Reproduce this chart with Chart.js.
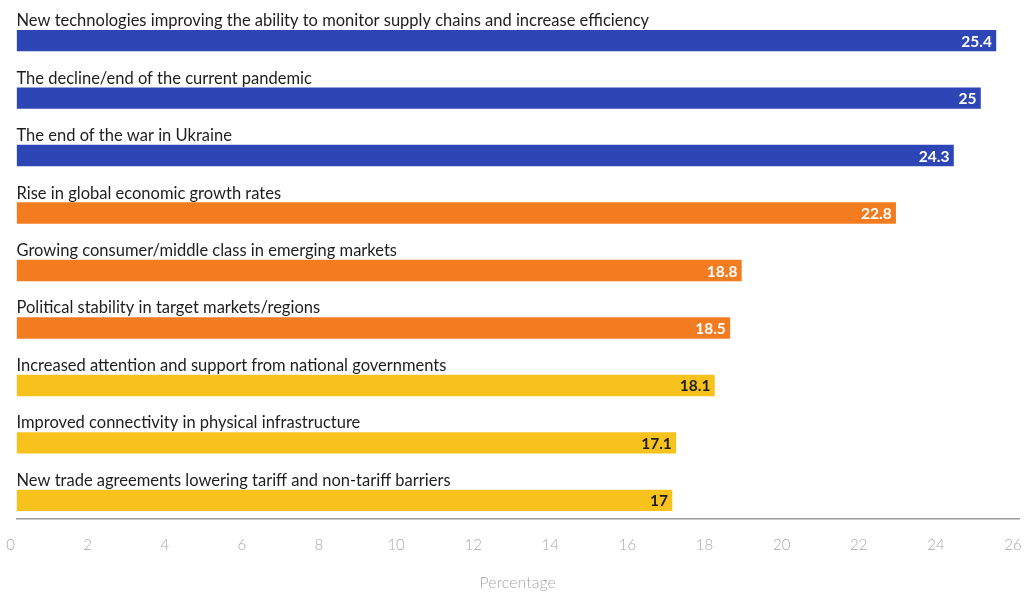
<!DOCTYPE html>
<html>
<head>
<meta charset="utf-8">
<script src="https://cdn.jsdelivr.net/npm/chart.js@4.4.0/dist/chart.umd.min.js"></script>
<style>
  html, body { margin: 0; padding: 0; background: #ffffff; }
  #wrap { width: 1027px; height: 592px; position: relative; }
</style>
</head>
<body>
<div id="wrap"><canvas id="c"></canvas></div>
<script>
// ---- data ----
const categories = [
  "New technologies improving the ability to monitor supply chains and increase efficiency",
  "The decline/end of the current pandemic",
  "The end of the war in Ukraine",
  "Rise in global economic growth rates",
  "Growing consumer/middle class in emerging markets",
  "Political stability in target markets/regions",
  "Increased attention and support from national governments",
  "Improved connectivity in physical infrastructure",
  "New trade agreements lowering tariff and non-tariff barriers"
];
const values = [25.4, 25, 24.3, 22.8, 18.8, 18.5, 18.1, 17.1, 17];
const xTickMin = 0;
const xTickMax = 26;
const xTickStep = 2;
const axisTitle = "Percentage";

// ---- styles ----
const BLUE = "#2e45b6", ORANGE = "#f47c20", YELLOW = "#f8c21d";
const barColors = [BLUE, BLUE, BLUE, ORANGE, ORANGE, ORANGE, YELLOW, YELLOW, YELLOW];
const valueColors = ["#ffffff","#ffffff","#ffffff","#ffffff","#ffffff","#ffffff","#1e1e1e","#1e1e1e","#1e1e1e"];
const FONT = "Lato";

const valueLabels = {
  id: "valueLabels",
  afterDatasetsDraw(chart) {
    const meta = chart.getDatasetMeta(1);
    const ctx = chart.ctx;
    ctx.save();
    ctx.font = "bold 15.5px " + FONT;
    ctx.textAlign = "right";
    ctx.textBaseline = "middle";
    meta.data.forEach((bar, i) => {
      ctx.fillStyle = valueColors[i];
      ctx.fillText(String(values[i]), bar.x - 4, bar.y + 1);
    });
    ctx.restore();
  }
};

function noMargins(scale) {
  scale.paddingLeft = 0; scale.paddingRight = 0;
  scale.paddingTop = 0; scale.paddingBottom = 0;
}

new Chart(document.getElementById("c"), {
  type: "bar",
  data: {
    labels: categories,
    datasets: [
      { label: "spacer", data: categories.map(() => null), backgroundColor: "rgba(0,0,0,0)", barThickness: 20.7 },
      { label: "Percentage", data: values, backgroundColor: barColors, barThickness: 20.7 }
    ]
  },
  options: {
    indexAxis: "y",
    responsive: true,
    maintainAspectRatio: false,
    animation: false,
    layout: { padding: { left: 16.5, right: 8, top: 1.5, bottom: 0 } },
    plugins: { legend: { display: false }, tooltip: { enabled: false } },
    scales: {
      y: {
        afterFit: (s) => { noMargins(s); s.width = 0; },
        grid: { display: false, drawTicks: false },
        border: { display: false },
        ticks: {
          mirror: true,
          padding: 0,
          labelOffset: -9.5,
          color: "#1e1e1e",
          font: { family: FONT, size: 16.5 },
          autoSkip: false
        }
      },
      x: {
        min: xTickMin,
        max: xTickMax,
        afterFit: noMargins,
        grid: { display: true, drawOnChartArea: false, drawTicks: false },
        border: { display: true, color: "#9a9a9a", width: 1.5 },
        ticks: {
          stepSize: xTickStep,
          color: "#a8a8a8",
          padding: 17,
          labelOffset: -6,
          maxRotation: 0,
          font: { family: FONT, size: 15, weight: 300 }
        },
        title: {
          display: true,
          text: axisTitle,
          color: "#a8a8a8",
          font: { family: FONT, size: 16, weight: 300 },
          padding: { top: 2, bottom: 0 }
        }
      }
    }
  },
  plugins: [valueLabels]
});
</script>
</body>
</html>
